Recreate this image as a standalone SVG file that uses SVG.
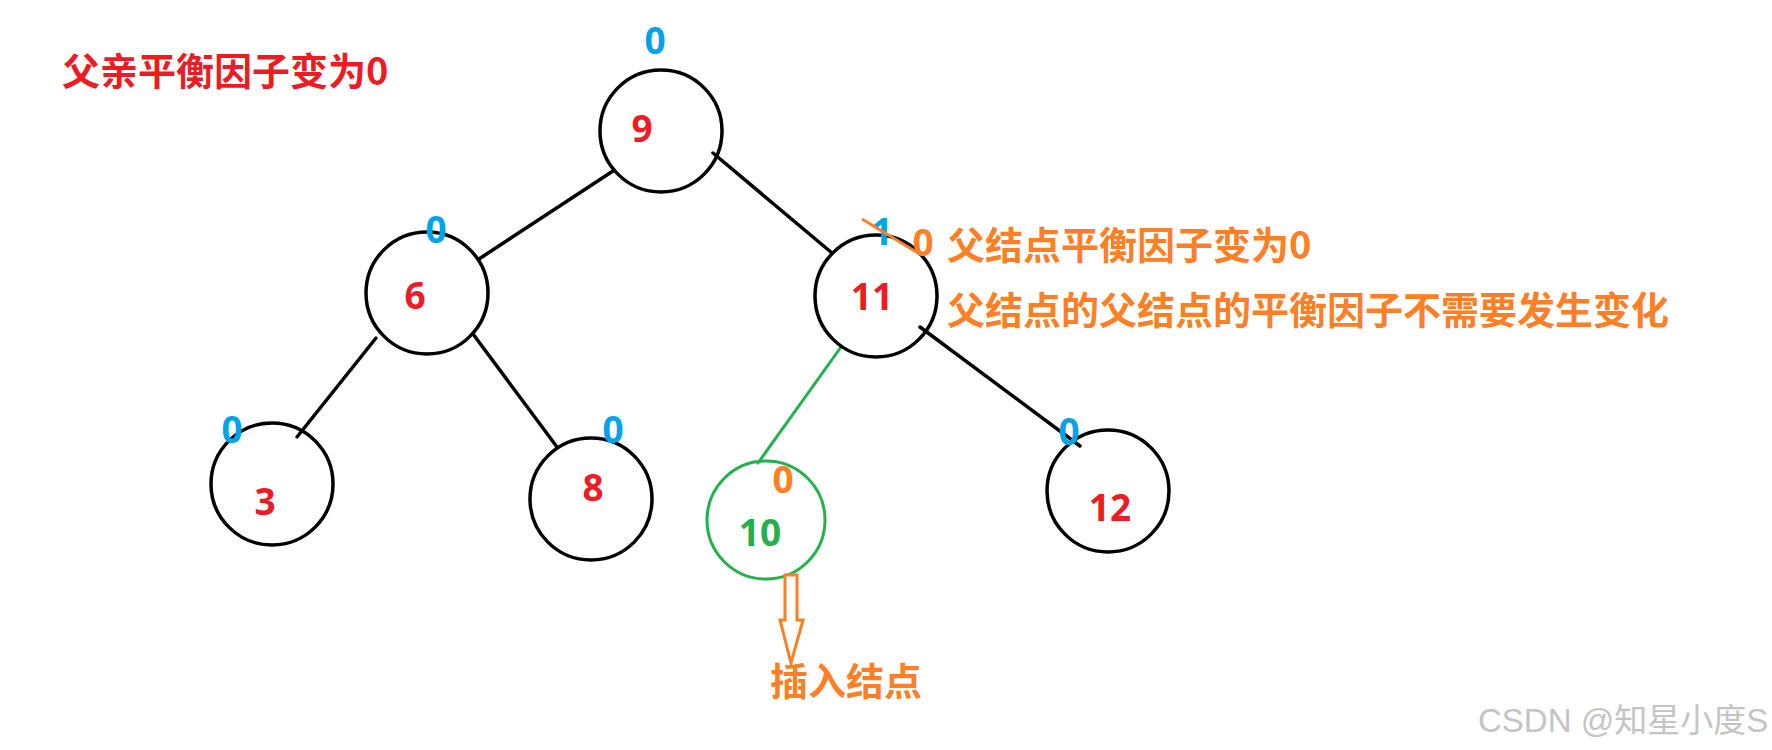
<svg xmlns="http://www.w3.org/2000/svg" width="1772" height="750" viewBox="0 0 1772 750">
<style>
  .node { fill: none; stroke: #000; stroke-width: 3.5; }
  .gnode { fill: none; stroke: #22B14C; stroke-width: 3; }
  .edge { stroke: #000; stroke-width: 3.5; stroke-linecap: round; }
  .gedge { stroke: #22B14C; stroke-width: 3; stroke-linecap: round; }
  .t { font-family: "Noto Sans", "Noto Sans CJK SC", sans-serif; font-weight: bold; }
  .cjk { font-family: "Noto Sans CJK SC", "Noto Sans", sans-serif; font-weight: bold; font-size: 38px; }
  .val { font-size: 37px; fill: #ED1C24; text-anchor: middle; }
  .bf { font-size: 37px; fill: #00A2E8; text-anchor: middle; }
  .or { fill: #FF7F27; }
  .red { fill: #ED1C24; }
</style>
<rect width="1772" height="750" fill="#fff"/>
<g id="connectors">
  <line class="edge" x1="613" y1="171" x2="479" y2="259"/>
  <line class="edge" x1="713" y1="153" x2="832" y2="253"/>
  <line class="edge" x1="376" y1="338" x2="297" y2="437"/>
  <line class="edge" x1="473" y1="334" x2="557" y2="447"/>
  <line class="gedge" x1="841" y1="347" x2="758" y2="463"/>
  <line class="edge" x1="920" y1="327" x2="1080" y2="446"/>
</g>
<g id="node9">
  <circle class="node" cx="661" cy="131" r="61"/>
  <text class="t val" x="642" y="142">9</text>
  <text class="t bf" x="655" y="54">0</text>
</g>
<g id="node6">
  <circle class="node" cx="427" cy="293" r="61"/>
  <text class="t val" x="415" y="309">6</text>
  <text class="t bf" x="436" y="243">0</text>
</g>
<g id="node11">
  <circle class="node" cx="876" cy="296" r="61"/>
  <text class="t val" x="872" y="310">11</text>
  <text class="t bf" x="882" y="245">1</text>
  <line x1="862" y1="219" x2="918" y2="253" stroke="#FF7F27" stroke-width="3"/>
  <text class="t or" x="923" y="256" font-size="37" text-anchor="middle">0</text>
</g>
<g id="node3">
  <circle class="node" cx="272" cy="484" r="61"/>
  <text class="t val" x="265" y="515">3</text>
  <text class="t bf" x="232" y="443">0</text>
</g>
<g id="node8">
  <circle class="node" cx="591" cy="499" r="61"/>
  <text class="t val" x="593" y="501">8</text>
  <text class="t bf" x="613" y="443">0</text>
</g>
<g id="node10">
  <circle class="gnode" cx="766" cy="520" r="59"/>
  <text class="t" x="760" y="546" font-size="37" fill="#22B14C" text-anchor="middle">10</text>
  <text class="t or" x="783" y="493" font-size="37" text-anchor="middle">0</text>
</g>
<g id="node12">
  <circle class="node" cx="1108" cy="491" r="61"/>
  <text class="t val" x="1110" y="521">12</text>
  <text class="t bf" x="1069" y="445">0</text>
</g>
<g id="insert-arrow">
  <polygon points="785,575 797,575 797,620 803,620 791,663 780,620 785,620" fill="#fff" stroke="#FF7F27" stroke-width="3" stroke-linejoin="miter"/>
  <text class="cjk or" x="770" y="695">插入结点</text>
</g>
<g id="annotations">
  <text class="cjk red" x="62" y="85">父亲平衡因子变为0</text>
  <text class="cjk or" x="947" y="259">父结点平衡因子变为0</text>
  <text class="cjk or" x="947" y="324">父结点的父结点的平衡因子不需要发生变化</text>
</g>
<text x="1478" y="732" font-family="Liberation Sans, Noto Sans CJK SC, sans-serif" font-size="33" fill="#c4c4c4">CSDN @知星小度S</text>
</svg>
